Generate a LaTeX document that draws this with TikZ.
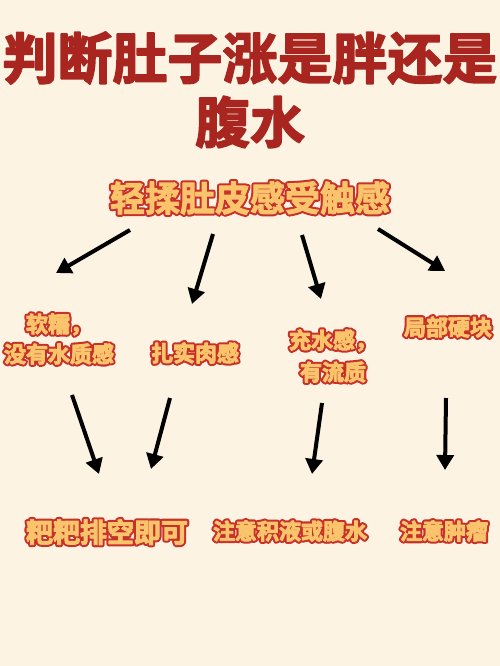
\documentclass[tikz,border=0pt]{standalone}
\usepackage{fontspec}
\newfontfamily\cjk{Noto Sans CJK SC}[BoldFont={* Bold}]
\usetikzlibrary{arrows.meta}
\definecolor{bg}{HTML}{FDF3E3}
\definecolor{titred}{HTML}{A8261F}
\definecolor{ored}{HTML}{C8302A}
\definecolor{oyel}{HTML}{F9C46B}
\tikzset{
  lbl/.style={inner sep=0pt, align=center},
  arr/.style={line width=4pt, -{Triangle[length=15pt,width=17pt]}, black},
}
\newcommand\strokeon{\special{pdf:literal direct 1 Tr 5 w 1 j 0.784 0.188 0.165 RG}}
\newcommand\fatyel{\special{pdf:literal direct 2 Tr 0.9 w 1 j 0.976 0.769 0.420 RG}}
\newcommand\fattit{\special{pdf:literal direct 2 Tr 1.6 w 1 j 0.659 0.149 0.122 RG}}
\newcommand\strokeoff{\special{pdf:literal direct 0 Tr}}
% outlined text: name, position, font size, baseline skip, text
\newcommand\otext[5]{%
  \node[lbl, text=ored, font={\cjk\bfseries\fontsize{#3}{#4}\selectfont}] at (#2) {\strokeon #5\strokeoff};
  \node[lbl, text=oyel, font={\cjk\bfseries\fontsize{#3}{#4}\selectfont}] (#1) at (#2) {\fatyel #5\strokeoff};}
\begin{document}
\begin{tikzpicture}[x=1pt,y=-1pt]
\fill[bg] (0,0) rectangle (500,666);
\useasboundingbox (0,0) rectangle (500,666);
% title
\node[lbl, text=titred, font={\cjk\bfseries\fontsize{55}{55}\selectfont}] (t1) at (250,58) {\fattit 判断肚子涨是胖还是\strokeoff};
\node[lbl, text=titred, font={\cjk\bfseries\fontsize{55}{55}\selectfont}] (t2) at (250,122) {\fattit 腹水\strokeoff};
% subtitle
\otext{sub}{250,198}{35}{35}{轻揉肚皮感受触感}
% level 2
\otext{a}{59,339}{22}{30}{软糯，\\没有水质感}
\otext{b}{195,353}{22}{30}{扎实肉感}
\otext{c}{333,356}{22}{32}{充水感，\\有流质}
\otext{d}{448,327}{22}{30}{局部硬块}
% level 3
\otext{e}{107,532}{27}{27}{粑粑排空即可}
\otext{f}{290,531}{22}{22}{注意积液或腹水}
\otext{g}{444,531}{22}{22}{注意肿瘤}
% arrow coordinates
\coordinate (s1) at (130,230); \coordinate (e1) at (56,273);
\coordinate (s2) at (213,234); \coordinate (e2) at (192,304);
\coordinate (s3) at (302,235); \coordinate (e3) at (321,299);
\coordinate (s4) at (378,229); \coordinate (e4) at (445,271);
\coordinate (s5) at (72,395);  \coordinate (e5) at (99,474);
\coordinate (s6) at (170,398); \coordinate (e6) at (151,469);
\coordinate (s7) at (322,403); \coordinate (e7) at (312,474);
\coordinate (s8) at (446,398); \coordinate (e8) at (445,470);
\foreach \i in {1,...,8}{\draw[arr] (s\i) -- (e\i);}
\end{tikzpicture}
\end{document}
